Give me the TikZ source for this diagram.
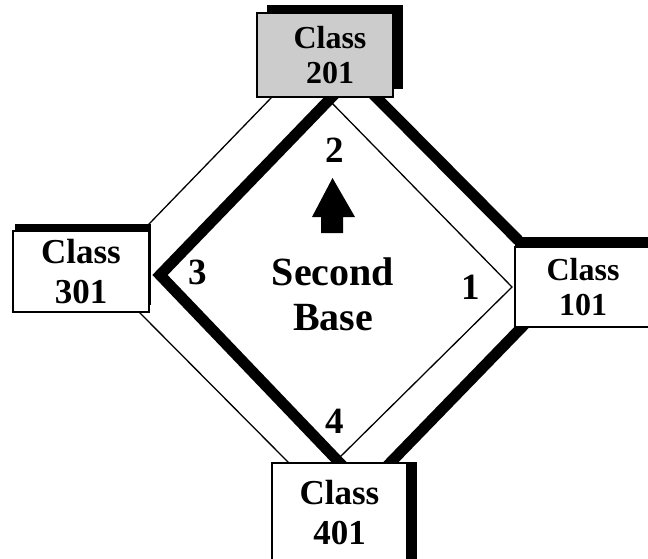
\documentclass[tikz,border=0pt]{standalone}
\usepackage{fontspec}
\setmainfont{Liberation Serif}
\usetikzlibrary{positioning,shadows}
\pgfdeclarelayer{background}
\pgfsetlayers{background,main}
\tikzset{
	field/.style={x=1pt,y=-1pt,line join=miter},
	classbox/.style={rectangle,draw,line width=1.5pt,fill=white,align=center,
		font=\fontsize{35}{40}\selectfont\bfseries},
	small class/.style={font=\fontsize{32}{35}\selectfont\bfseries},
	basenum/.style={font=\fontsize{37}{40}\selectfont\bfseries,inner sep=0pt},
	heavy/.style={line width=11pt},
	light/.style={line width=1.3pt}
}

\begin{document}
\begin{tikzpicture}[field]
	\useasboundingbox (0,0) rectangle (648,558);
	\clip (0,0) rectangle (648,558);
	
	% classrooms round the field
	\node[classbox, small class, fill=black!20, minimum width=136pt, minimum height=84pt,
		drop shadow={shadow xshift=10pt,shadow yshift=8pt,fill=black,opacity=1}] (c201) at (325,55) {\hspace*{10pt}Class\\\hspace*{10pt}201};
	\node[classbox, minimum width=136pt, minimum height=81pt,
		drop shadow={shadow xshift=2pt,shadow yshift=7pt,fill=black,opacity=1}] (c301) at (81,271.5) {Class\\301};
	\node[classbox, small class, minimum width=136pt, minimum height=80pt,
		drop shadow={shadow xshift=0pt,shadow yshift=10pt,fill=black,opacity=1}] (c101) at (583,287) {Class\\101};
	\node[classbox, minimum width=135pt, minimum height=100pt,
		drop shadow={shadow xshift=10pt,shadow yshift=1pt,fill=black,opacity=1}] (c401) at (339.5,513) {Class\\401};
	
	% the bases
	\coordinate (second) at (329,100);
	\coordinate (third) at (160,275);
	\coordinate (home) at (337,460);
	\coordinate (first) at (512,287);
	
	\begin{pgfonlayer}{background}
		\draw[light, shorten <=-4pt, shorten >=-4pt] ([xshift=15pt]c201.south west) -- ([yshift=7pt]c301.north east);
		\draw[light, shorten <=-4pt, shorten >=-4pt] ([xshift=-10pt]c301.south east) -- ([xshift=17pt]c401.north west);
		\draw[heavy, shorten <=-6pt, shorten >=-6pt] ([xshift=-17pt]c201.south east) -- ([yshift=10pt]c101.north west);
		\draw[heavy, shorten <=-6pt, shorten >=-6pt] ([xshift=7pt]c101.south west) -- ([xshift=-17pt]c401.north east);
		\draw[light] (home) -- (first) -- (second);
		\draw[heavy, shorten <=-8pt, shorten >=-8pt] (second) -- (third) -- (home);
	\end{pgfonlayer}
	
	\node[basenum] (n1) at (471,287) {1};
	\node[basenum] (n2) at (335,150) {2};
	\node[basenum] (n3) at (198,272) {3};
	\node[basenum] (n4) at (335,421) {4};
	\node[align=center, font=\fontsize{40}{45}\selectfont\bfseries] (title) at (333,294) {Second\\Base};
	
	% direction of play
	\fill (332.5,178) -- (355,217) -- (343,217) -- (343,233) -- (321,233) -- (321,217) -- (312,217) -- cycle;
\end{tikzpicture}
\end{document}
